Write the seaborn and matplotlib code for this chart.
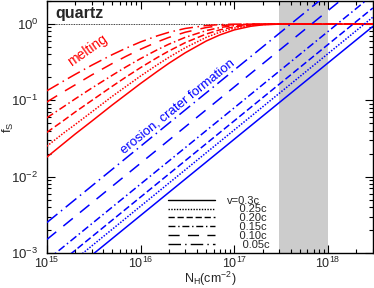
import numpy as np
import pandas as pd
import seaborn as sns
import matplotlib.pyplot as plt
from matplotlib.lines import Line2D
from matplotlib.ticker import LogLocator, NullFormatter

# 数据：柱密度 N_H (cm^-2) 与破坏比例 f_S
velocities = ['0.3c', '0.25c', '0.20c', '0.15c', '0.10c', '0.05c']

# 熔化 (红色曲线)
N_melt = [1e15, 1.5e15, 2e15, 3e15, 5e15, 7e15, 1e16, 1.5e16, 2e16, 3e16,
          5e16, 7e16, 1e17, 1.5e17, 2e17, 3e17, 5e17, 1e18, 3e18]
melt_030 = [0.018, 0.027, 0.036, 0.053, 0.087, 0.119, 0.166, 0.238, 0.305, 0.420,
            0.597, 0.719, 0.837, 0.934, 0.974, 0.996, 1.0, 1.0, 1.0]
melt_025 = [0.025, 0.037, 0.048, 0.070, 0.113, 0.152, 0.208, 0.291, 0.365, 0.489,
            0.667, 0.781, 0.883, 0.958, 0.985, 0.998, 1.0, 1.0, 1.0]
melt_020 = [0.038, 0.054, 0.070, 0.099, 0.153, 0.202, 0.268, 0.362, 0.442, 0.570,
            0.738, 0.838, 0.919, 0.973, 0.991, 0.999, 1.0, 1.0, 1.0]
melt_015 = [0.059, 0.082, 0.104, 0.144, 0.213, 0.274, 0.352, 0.458, 0.543, 0.669,
            0.819, 0.898, 0.954, 0.987, 0.996, 1.0, 1.0, 1.0, 1.0]
melt_010 = [0.095, 0.129, 0.159, 0.214, 0.304, 0.377, 0.467, 0.581, 0.666, 0.780,
            0.898, 0.950, 0.981, 0.996, 0.999, 1.0, 1.0, 1.0, 1.0]
melt_005 = [0.133, 0.178, 0.218, 0.287, 0.397, 0.482, 0.582, 0.698, 0.778, 0.874,
            0.954, 0.982, 0.995, 0.999, 1.0, 1.0, 1.0, 1.0, 1.0]

# 侵蚀、撞击坑 (蓝色直线)
N_eros = [1e15, 3e18]
eros_030 = [3.1e-4, 0.93]
eros_025 = [4.1e-4, 1.23]
eros_020 = [5.4e-4, 1.62]
eros_015 = [8.0e-4, 2.4]
eros_010 = [1.5e-3, 4.5]
eros_005 = [2.5e-3, 7.5]

# 灰色区域
band = [3e17, 1e18]

melt = [melt_030, melt_025, melt_020, melt_015, melt_010, melt_005]
eros = [eros_030, eros_025, eros_020, eros_015, eros_010, eros_005]
styles = ['-', (0, (1, 1)), (0, (4.5, 2)), (0, (5, 2, 1, 2)),
          (0, (8, 6)), (0, (9, 3, 1, 3))]

sns.set_style('ticks')
plt.rcParams['font.family'] = ['Liberation Sans', 'DejaVu Sans']
plt.rcParams['mathtext.fontset'] = 'custom'
plt.rcParams['mathtext.rm'] = 'Liberation Sans'
plt.rcParams['mathtext.it'] = 'Liberation Sans:italic'
plt.rcParams['mathtext.bf'] = 'Liberation Sans:bold'

fig = plt.figure(figsize=(3.74, 2.88), dpi=100)
ax = fig.add_axes([0.125, 0.1215, 0.872, 0.875])
ax.set_xscale('log')
ax.set_yscale('log')

ax.axvspan(band[0], band[1], color='#cccccc', lw=0, zorder=0)
ax.axhline(1.0, color='black', lw=0.6, ls=(0, (1, 1)), zorder=1)

for y, ls in zip(melt, styles):
    sns.lineplot(x=N_melt, y=y, color='red', linestyle=ls, lw=1.1, ax=ax, zorder=3)
for y, ls in zip(eros, styles):
    sns.lineplot(x=N_eros, y=y, color='blue', linestyle=ls, lw=1.1, ax=ax, zorder=3)

ax.set_xlim(1e15, 3e18)
ax.set_ylim(1e-3, 2.0)

ax.tick_params(which='both', direction='in', top=True, right=True, width=0.8,
               labelsize=9.5, color='black')
ax.tick_params(which='major', length=6)
ax.tick_params(which='minor', length=3.2)
ax.tick_params(axis='y', pad=6)
ax.tick_params(axis='x', pad=2, labelsize=9)
ax.xaxis.set_minor_locator(LogLocator(base=10, subs=np.arange(2, 10), numticks=20))
ax.yaxis.set_minor_locator(LogLocator(base=10, subs=np.arange(2, 10), numticks=20))
ax.xaxis.set_minor_formatter(NullFormatter())
ax.yaxis.set_minor_formatter(NullFormatter())
for s in ax.spines.values():
    s.set_linewidth(1.0)
    s.set_color('black')

ax.set_xlabel(r'N$_\mathregular{H}$(cm$^{-2}$)', fontsize=9)
ax.set_ylabel(r'f$_\mathregular{S}$', fontsize=9.5)
ax.xaxis.set_label_coords(0.5, -0.066)
ax.yaxis.set_label_coords(-0.094, 0.5)

ax.text(0.025, 0.933, 'quartz', transform=ax.transAxes, fontsize=11.5,
        fontweight='bold', va='baseline', ha='left')
ax.text(2.75e15, 0.455, 'melting', color='red', fontsize=10, rotation=35,
        ha='center', va='center', rotation_mode='anchor')
ax.text(2.5e16, 0.083, 'erosion, crater formation', color='blue', fontsize=9.5,
        rotation=39, ha='center', va='center', rotation_mode='anchor')

handles = [Line2D([0], [0], color='black', lw=1.0, linestyle=ls) for ls in styles]
labels = ['v=' + velocities[0]] + ['    ' + v for v in velocities[1:4]] + \
         ['    ' + velocities[4], '     ' + velocities[5]]
ax.legend(handles, labels, loc='lower left', bbox_to_anchor=(0.372, 0.012),
          frameon=False, fontsize=8, handlelength=4.2, handletextpad=1.1,
          labelspacing=-0.1, borderpad=0, borderaxespad=0)

fig.savefig('out.png', dpi=100)
